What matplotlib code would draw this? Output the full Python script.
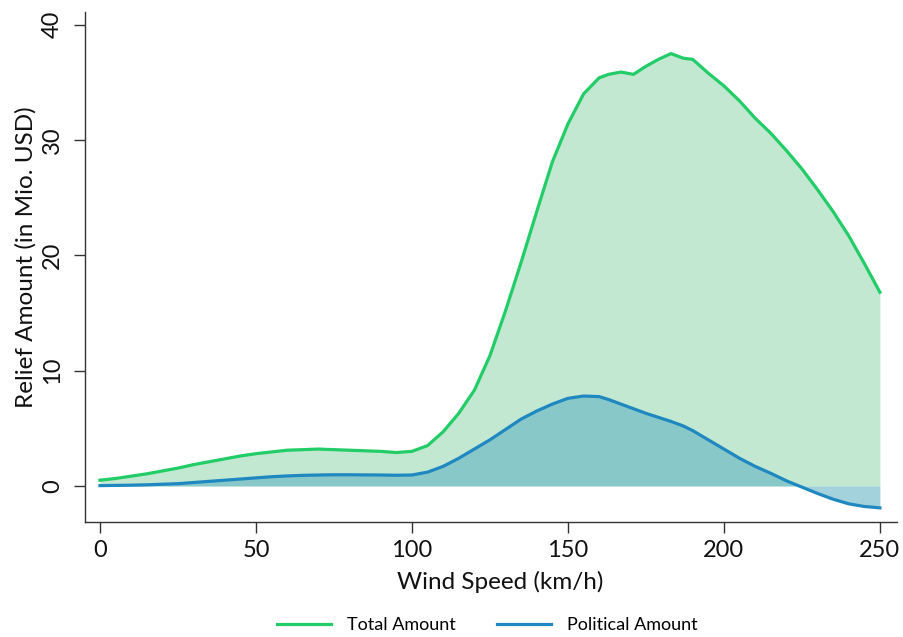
import matplotlib
matplotlib.use('Agg')
import matplotlib.pyplot as plt
import numpy as np

plt.rcParams['font.family'] = ['Lato', 'DejaVu Sans']

# wind speed grid (km/h)
speed = [0, 5, 10, 15, 20, 25, 30, 35, 40, 45, 50, 55, 60, 65, 70, 75, 80, 85, 90, 95,
         100, 105, 110, 115, 120, 125, 130, 135, 140, 145, 150, 155, 160, 163, 167, 171,
         175, 179, 183, 187, 190, 195, 200, 205, 210, 215, 220, 225, 230, 235, 240, 245, 250]

total_amount = [0.5, 0.65, 0.85, 1.05, 1.3, 1.55, 1.85, 2.1, 2.35, 2.6, 2.8, 2.95, 3.1, 3.15,
                3.2, 3.15, 3.1, 3.05, 3.0, 2.9, 3.0, 3.5, 4.7, 6.3, 8.3, 11.3, 15.2, 19.4,
                23.8, 28.1, 31.4, 34.0, 35.4, 35.7, 35.9, 35.7, 36.4, 37.0, 37.5, 37.1, 37.0,
                35.8, 34.7, 33.4, 31.9, 30.6, 29.1, 27.5, 25.7, 23.8, 21.7, 19.3, 16.8]

political_amount = [0.03, 0.05, 0.07, 0.1, 0.15, 0.2, 0.3, 0.4, 0.5, 0.6, 0.7, 0.8, 0.87, 0.92,
                    0.95, 0.97, 0.97, 0.96, 0.95, 0.93, 0.95, 1.2, 1.7, 2.4, 3.2, 4.0, 4.9, 5.8,
                    6.5, 7.1, 7.6, 7.8, 7.75, 7.5, 7.1, 6.7, 6.3, 5.95, 5.6, 5.2, 4.8, 4.0,
                    3.2, 2.4, 1.7, 1.1, 0.45, -0.1, -0.65, -1.15, -1.55, -1.78, -1.9]

green = '#22cc66'
blue = '#1f88c0'

fig = plt.figure(figsize=(9.04, 6.37), dpi=100)
ax = fig.add_axes([0.094, 0.181, 0.898, 0.80])

x = np.array(speed)
ax.fill_between(x, total_amount, 0, color='#c2e8d2', linewidth=0)
ax.fill_between(x, political_amount, 0, color='#5aaec0', alpha=0.55, linewidth=0)
ax.plot(x, total_amount, color=green, linewidth=2.3, label='Total Amount')
ax.plot(x, political_amount, color=blue, linewidth=2.3, label='Political Amount')

ax.set_xlim(-4.8, 255.4)
ax.set_ylim(-3.1, 41.1)
ax.set_xticks([0, 50, 100, 150, 200, 250])
ax.set_yticks([0, 10, 20, 30, 40])
for s in ['top', 'right']:
    ax.spines[s].set_visible(False)
for s in ['left', 'bottom']:
    ax.spines[s].set_color('#333333')
    ax.spines[s].set_linewidth(1.0)
ax.tick_params(axis='both', length=8, width=1, color='#333333', labelsize=17, labelcolor='#111111')
ax.tick_params(axis='x', pad=5)
ax.tick_params(axis='y', pad=8)
for lab in ax.get_yticklabels():
    lab.set_rotation(90)
    lab.set_va('center')

ax.set_xlabel('Wind Speed (km/h)', fontsize=17.5, color='#111111', labelpad=7)
ax.set_ylabel('Relief Amount (in Mio. USD)', fontsize=17.5, color='#111111', labelpad=4)
ax.xaxis.label.set_x(0.512)
ax.yaxis.label.set_y(0.52)

fig.legend(loc='lower center', bbox_to_anchor=(0.539, -0.02), ncol=2, frameon=False,
           fontsize=13, handlelength=3.0, columnspacing=2.3, handletextpad=0.85)

fig.savefig('out.png', dpi=100)
